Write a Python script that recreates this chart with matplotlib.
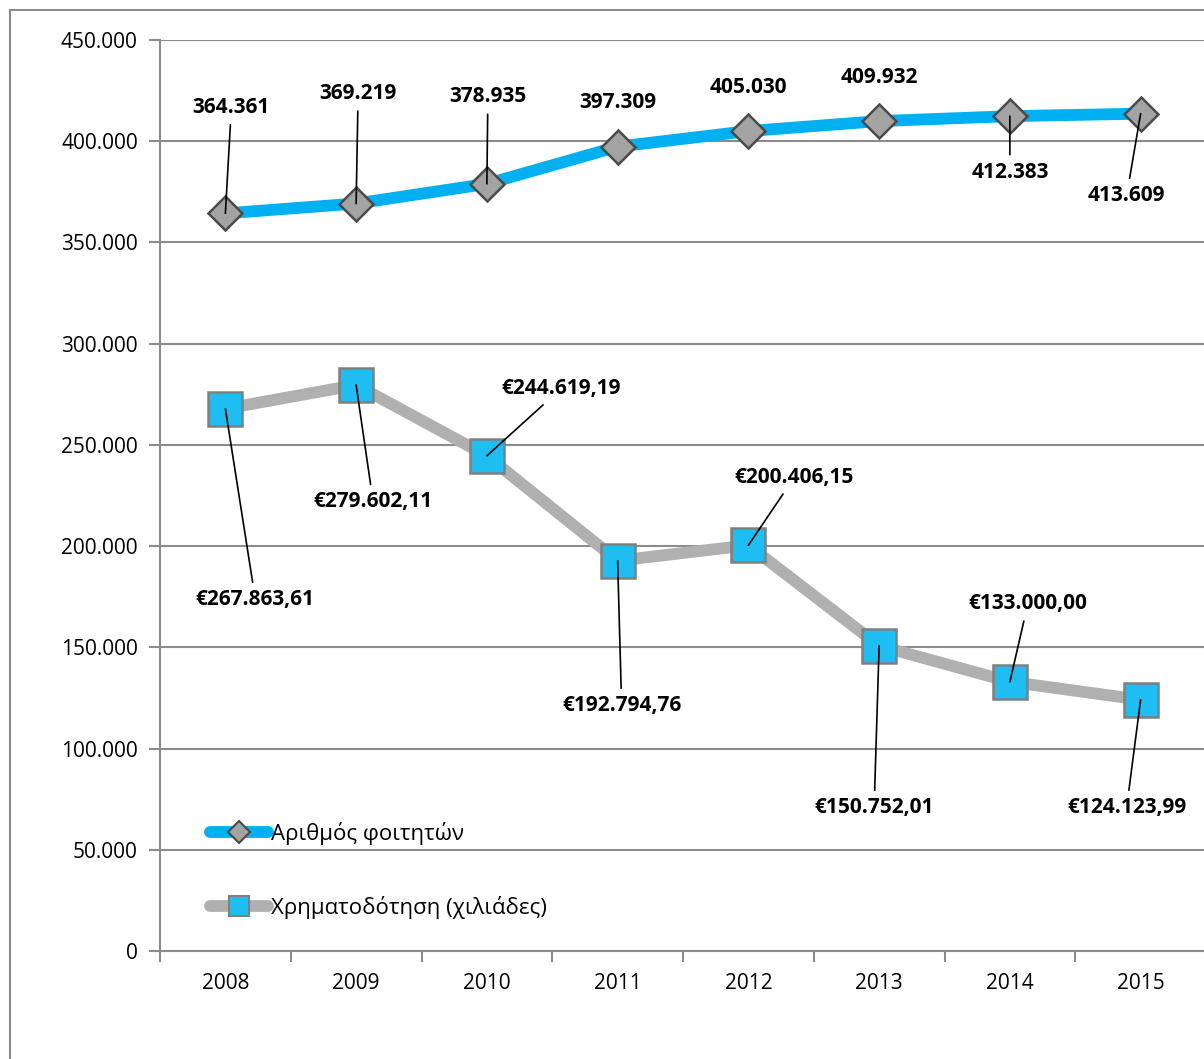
import matplotlib
matplotlib.use('Agg')
import matplotlib.pyplot as plt
from matplotlib.lines import Line2D
from matplotlib.patches import Rectangle
from matplotlib.ticker import FuncFormatter

plt.rcParams['font.family'] = ['Open Sans', 'DejaVu Sans']

years = ['2008', '2009', '2010', '2011', '2012', '2013', '2014', '2015']
students = [364361, 369219, 378935, 397309, 405030, 409932, 412383, 413609]
funding = [267863.61, 279602.11, 244619.19, 192794.76, 200406.15, 150752.01, 133000.00, 124123.99]

student_labels = ['364.361', '369.219', '378.935', '397.309', '405.030', '409.932', '412.383', '413.609']
funding_labels = ['€267.863,61', '€279.602,11', '€244.619,19', '€192.794,76',
                  '€200.406,15', '€150.752,01', '€133.000,00', '€124.123,99']

# label offsets from the marker, in pixels (dx, dy); leader line or not
student_off = [(6, 106, True), (2, 110, True), (1, 87, True), (0, 44, False),
               (0, 44, False), (0, 44, False), (0, -56, True), (-14, -82, True)]
funding_off = [(30, -191, True), (17, -117, True), (74, 67, True), (4, -145, True),
               (46, 68, True), (-5, -162, True), (18, 78, True), (-14, -108, True)]

BLUE = '#00b0f0'
GRAY_LINE = '#b0b0b0'
GRID = '#8c8c8c'

fig = plt.figure(figsize=(12.04, 10.59), dpi=100)
fig.patches.append(Rectangle((10 / 1204, -0.1), 1.2, 1 - 10 / 1059 + 0.1,
                             transform=fig.transFigure, fill=False,
                             edgecolor='#8c8c8c', linewidth=1.5))
ax = fig.add_axes([160 / 1204, 1 - 951 / 1059, 1046 / 1204, 911 / 1059])

x = list(range(len(years)))
ax.plot(x, students, color=BLUE, lw=8.5, solid_capstyle='round', zorder=3,
        marker='D', ms=17.5, mfc='#a3a3a3', mec='#4a4a4a', mew=1.8)
ax.plot(x, funding, color=GRAY_LINE, lw=8.5, solid_capstyle='round', zorder=3,
        marker='s', ms=25, mfc='#1ebef2', mec='#7f7f7f', mew=1.8)

for xi, v, t, (dx, dy, line) in zip(x, students, student_labels, student_off):
    ax.annotate(t, (xi, v), xytext=(dx, dy), textcoords='offset pixels',
                ha='center', va='center', fontsize=15, fontweight='bold', zorder=5,
                arrowprops=dict(arrowstyle='-', color='black', lw=1.2,
                                shrinkA=3, shrinkB=0) if line else None)
for xi, v, t, (dx, dy, line) in zip(x, funding, funding_labels, funding_off):
    ax.annotate(t, (xi, v), xytext=(dx, dy), textcoords='offset pixels',
                ha='center', va='center', fontsize=15, fontweight='bold', zorder=5,
                arrowprops=dict(arrowstyle='-', color='black', lw=1.2,
                                shrinkA=3, shrinkB=0) if line else None)

ax.set_xlim(-0.5, 7.5)
ax.set_ylim(0, 450000)
ax.set_yticks(range(0, 450001, 50000))
ax.yaxis.set_major_formatter(FuncFormatter(lambda v, p: f'{int(v):,}'.replace(',', '.')))
ax.set_xticks(x)
ax.set_xticklabels(years)
ax.set_xticks([i - 0.5 for i in range(9)], minor=True)
ax.tick_params(axis='x', which='major', length=0, pad=16, labelsize=15)
ax.tick_params(axis='x', which='minor', length=8, width=1.5, color=GRID, direction='out')
ax.tick_params(axis='y', length=8, width=1.5, color=GRID, pad=8, labelsize=15)
ax.grid(axis='y', color=GRID, lw=1.5, zorder=0)
ax.set_axisbelow(True)
for s in ['top', 'right']:
    ax.spines[s].set_visible(False)
for s in ['left', 'bottom']:
    ax.spines[s].set_color(GRID)
    ax.spines[s].set_linewidth(1.5)

handles = [
    Line2D([], [], color=BLUE, lw=8.5, solid_capstyle='round', marker='D', ms=11,
           mfc='#a3a3a3', mec='#4a4a4a', mew=1.5),
    Line2D([], [], color=GRAY_LINE, lw=8.5, solid_capstyle='round', marker='s', ms=15,
           mfc='#1ebef2', mec='#7f7f7f', mew=1.5),
]
ax.legend(handles, ['Αριθμός φοιτητών', 'Χρηματοδότηση (χιλιάδες)'],
          loc='upper left', bbox_to_anchor=(210 / 1204, 1 - 822 / 1059),
          bbox_transform=fig.transFigure, frameon=False, fontsize=16,
          handlelength=2.6, handletextpad=0.15, labelspacing=2.3,
          borderpad=0, borderaxespad=0)

fig.savefig('out.png', dpi=100)
